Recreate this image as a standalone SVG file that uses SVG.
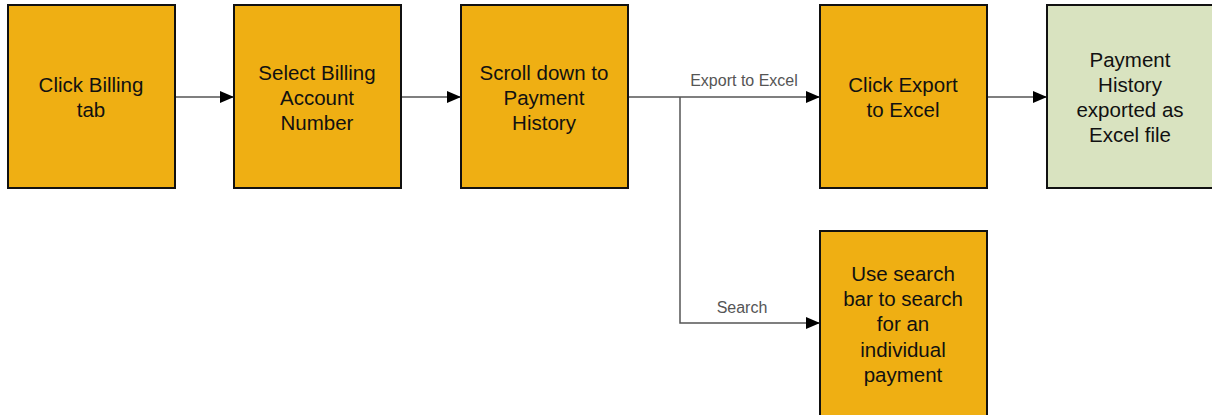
<svg xmlns="http://www.w3.org/2000/svg" width="1212" height="415" viewBox="0 0 1212 415">
  <style>
    .step { fill: #EFAF13; stroke: #111; stroke-width: 2; }
    .done { fill: #D9E3C0; stroke: #111; stroke-width: 2; }
    .label { font-family: "Liberation Sans", Arial, sans-serif; font-size: 20.5px; fill: #111; text-anchor: middle; }
    .edge { fill: none; stroke: #555; stroke-width: 1.5; }
    .edge-label { font-family: "Liberation Sans", Arial, sans-serif; font-size: 16px; fill: #555; text-anchor: middle; }
  </style>
  <defs>
    <marker id="arrow" markerWidth="14" markerHeight="12" refX="14" refY="6" orient="auto" markerUnits="userSpaceOnUse">
      <path d="M0,0 L14,6 L0,12 Z" fill="#000"/>
    </marker>
  </defs>
  <rect width="1212" height="415" fill="#fff"/>

  <g id="connectors">
    <path class="edge" d="M175,97 H234" marker-end="url(#arrow)"/>
    <path class="edge" d="M401,97 H461" marker-end="url(#arrow)"/>
    <path class="edge" d="M628,97 H820" marker-end="url(#arrow)"/>
    <path class="edge" d="M680,97 V323 H820" marker-end="url(#arrow)"/>
    <path class="edge" d="M987,97 H1047" marker-end="url(#arrow)"/>
    <text class="edge-label" x="744" y="86">Export to Excel</text>
    <text class="edge-label" x="742" y="313">Search</text>
  </g>

  <g id="click-billing-tab">
    <rect class="step" x="8" y="5" width="167" height="183"/>
    <text class="label" x="91" y="92">Click Billing</text>
    <text class="label" x="91" y="117">tab</text>
  </g>

  <g id="select-billing-account">
    <rect class="step" x="234" y="5" width="167" height="183"/>
    <text class="label" x="317" y="80">Select Billing</text>
    <text class="label" x="317" y="105">Account</text>
    <text class="label" x="317" y="130">Number</text>
  </g>

  <g id="scroll-to-payment-history">
    <rect class="step" x="461" y="5" width="167" height="183"/>
    <text class="label" x="544" y="80">Scroll down to</text>
    <text class="label" x="544" y="105">Payment</text>
    <text class="label" x="544" y="130">History</text>
  </g>

  <g id="click-export-to-excel">
    <rect class="step" x="820" y="5" width="167" height="183"/>
    <text class="label" x="903" y="92">Click Export</text>
    <text class="label" x="903" y="117">to Excel</text>
  </g>

  <g id="history-exported">
    <rect class="done" x="1047" y="5" width="167" height="183"/>
    <text class="label" x="1130" y="67">Payment</text>
    <text class="label" x="1130" y="92">History</text>
    <text class="label" x="1130" y="117">exported as</text>
    <text class="label" x="1130" y="142">Excel file</text>
  </g>

  <g id="search-payment">
    <rect class="step" x="820" y="231" width="167" height="190"/>
    <text class="label" x="903" y="281">Use search</text>
    <text class="label" x="903" y="306">bar to search</text>
    <text class="label" x="903" y="331">for an</text>
    <text class="label" x="903" y="357">individual</text>
    <text class="label" x="903" y="382">payment</text>
  </g>
</svg>
